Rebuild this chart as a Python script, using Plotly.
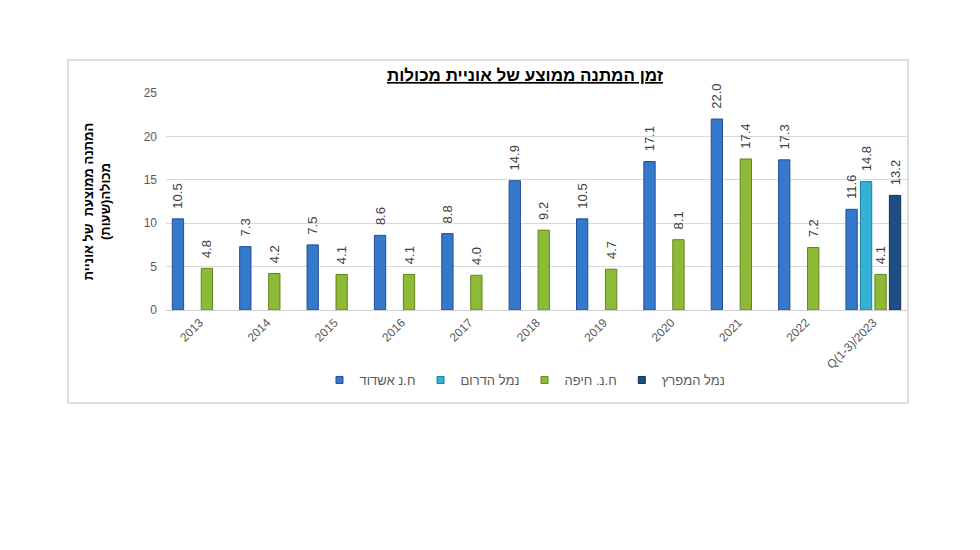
import plotly.graph_objects as go

categories = ["2013", "2014", "2015", "2016", "2017", "2018", "2019", "2020", "2021", "2022", "Q(1-3)/2023"]
ashdod = [10.5, 7.3, 7.5, 8.6, 8.8, 14.9, 10.5, 17.1, 22.0, 17.3, 11.6]
hadarom = [None, None, None, None, None, None, None, None, None, None, 14.8]
haifa = [4.8, 4.2, 4.1, 4.1, 4.0, 9.2, 4.7, 8.1, 17.4, 7.2, 4.1]
hamifratz = [None, None, None, None, None, None, None, None, None, None, 13.2]

series_names = ["ח.נ אשדוד", "נמל הדרום", "ח.נ. חיפה", "נמל המפרץ"]
series_values = [ashdod, hadarom, haifa, hamifratz]
colors = ["#3479cc", "#33b2d6", "#8fba35", "#1d4f86"]
line_colors = ["#1f4f8f", "#1f7f9f", "#5f8420", "#10304f"]

title_text = "זמן המתנה ממוצע של אוניית מכולות"
y_title = "המתנה ממוצעת  של אוניית<br>מכולה(שעות)"

FONT = "Liberation Sans, Arial, DejaVu Sans, sans-serif"
PAD = "\u00a0\u00a0"

fig = go.Figure()
for name, vals, c, lc in zip(series_names, series_values, colors, line_colors):
    fig.add_trace(go.Bar(
        x=categories, y=vals, name=name, showlegend=False,
        marker=dict(color=c, line=dict(color=lc, width=1)),
        text=[(PAD + "%.1f" % v) if v is not None else "" for v in vals],
        textposition="outside", textangle=-90, constraintext="none",
        textfont=dict(size=13, color="#404040", family=FONT),
        cliponaxis=False,
    ))
# legend entries with small square markers
for name, c, lc in zip(series_names, colors, line_colors):
    fig.add_trace(go.Scatter(
        x=[None], y=[None], mode="markers", name=name,
        marker=dict(symbol="square", size=7, color=c, line=dict(color=lc, width=1)),
    ))

OFF = 8  # page body margin
L, T = 166 - OFF, 93 - OFF
W, H = 980, 550
pw, ph = 741, 217
R = W - L - pw
B = H - T - ph

def px(x):
    return (x - OFF - L) / pw

def py(y):
    return (T + ph - (y - OFF)) / ph

fig.add_shape(type="rect", xref="paper", yref="paper",
              x0=px(68), x1=px(908), y0=py(403), y1=py(60),
              line=dict(color="#d4d4d4", width=1.5), fillcolor="rgba(0,0,0,0)", layer="below")

fig.update_layout(
    width=W, height=H,
    margin=dict(l=L, r=R, t=T, b=B),
    paper_bgcolor="white", plot_bgcolor="white",
    barmode="group", bargap=0.14, bargroupgap=0.22,
    font=dict(family=FONT, color="#595959"),
    title=dict(text="<b><u>" + title_text + "</u></b>", x=px(525), xanchor="center", xref="paper",
               y=1 - (75 - OFF) / H, yanchor="middle", yref="container",
               font=dict(size=17, color="#000000", family=FONT)),
    legend=dict(orientation="h", x=px(525), xanchor="center", y=py(380), yanchor="middle",
                font=dict(size=13, color="#595959"), itemwidth=30,
                traceorder="normal"),
    showlegend=True,
)
fig.update_xaxes(
    showline=True, linecolor="#d0d0d0", linewidth=1,
    tickangle=-45, tickfont=dict(size=12, color="#595959"),
    ticks="", showgrid=False,
)
fig.update_yaxes(
    range=[0, 25], dtick=5, showgrid=True, gridcolor="#d9d9d9", gridwidth=1,
    zeroline=False, ticks="", tickfont=dict(size=12, color="#595959"),
    ticklabelstandoff=8,
    title=dict(text="<b>" + y_title + "</b>", font=dict(size=13, color="#000000"), standoff=30),
)

fig.write_html("out.html")
